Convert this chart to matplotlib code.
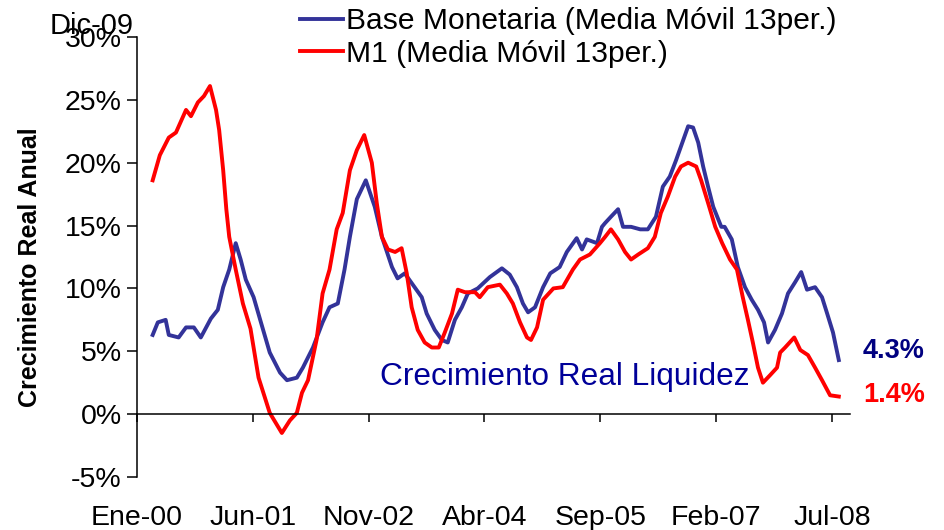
"""
    plot.py
        -- crecimiento real liquidez: base monetaria y M1 (media movil 13 per.)
"""
import matplotlib

matplotlib.use("Agg")
import matplotlib.dates as mdates
import matplotlib.pyplot as plt
import pandas as pd

# Base Monetaria (Media Movil 13per.), % crecimiento real anual
bm_dates = [
    "2000-03-11", "2000-04-03", "2000-05-08", "2000-05-22", "2000-07-05",
    "2000-08-07", "2000-09-11", "2000-10-12", "2000-11-26", "2000-12-27",
    "2001-01-20", "2001-02-16", "2001-03-17", "2001-04-08", "2001-05-01",
    "2001-06-05", "2001-07-06", "2001-08-16", "2001-10-01", "2001-11-01",
    "2001-12-15", "2002-01-11", "2002-02-25", "2002-04-09", "2002-05-10",
    "2002-06-16", "2002-07-16", "2002-08-09", "2002-09-09", "2002-10-19",
    "2002-11-28", "2002-12-30", "2003-02-13", "2003-03-10", "2003-04-11",
    "2003-05-25", "2003-06-26", "2003-07-18", "2003-08-23", "2003-09-24",
    "2003-10-20", "2003-11-21", "2003-12-22", "2004-01-18", "2004-03-02",
    "2004-04-25", "2004-06-18", "2004-07-23", "2004-08-24", "2004-09-20",
    "2004-10-13", "2004-11-13", "2004-12-19", "2005-01-20", "2005-03-03",
    "2005-04-04", "2005-05-18", "2005-06-11", "2005-07-02", "2005-08-17",
    "2005-09-08", "2005-09-22", "2005-10-18", "2005-11-19", "2005-12-11",
    "2006-01-16", "2006-02-26", "2006-04-01", "2006-05-07", "2006-06-07",
    "2006-07-08", "2006-08-05", "2006-09-06", "2006-09-28", "2006-10-20",
    "2006-11-12", "2006-12-04", "2006-12-26", "2007-01-18", "2007-02-23",
    "2007-03-10", "2007-04-11", "2007-05-08", "2007-06-09", "2007-07-09",
    "2007-08-06", "2007-09-02", "2007-09-20", "2007-10-21", "2007-11-21",
    "2007-12-18", "2008-01-19", "2008-02-15", "2008-03-12", "2008-04-17",
    "2008-05-18", "2008-06-10", "2008-07-06", "2008-08-01",
]
bm_vals = [
    6.3, 7.3, 7.5, 6.3, 6.1,
    6.9, 6.9, 6.1, 7.6, 8.3,
    10.1, 11.5, 13.6, 12.3, 10.7,
    9.3, 7.4, 4.9, 3.3, 2.7,
    2.9, 3.7, 5.3, 7.3, 8.5,
    8.8, 11.5, 14.1, 17.1, 18.6,
    16.5, 14.1, 11.7, 10.8, 11.2,
    10.1, 9.3, 8.0, 6.7, 5.9,
    5.7, 7.5, 8.5, 9.6, 10.0,
    10.9, 11.6, 11.1, 10.1, 8.8,
    8.1, 8.5, 10.1, 11.2, 11.7,
    12.9, 14.0, 13.1, 13.9, 13.6,
    14.9, 15.2, 15.7, 16.3, 14.9,
    14.9, 14.7, 14.7, 15.7, 18.1,
    18.9, 20.2, 21.8, 22.9, 22.8,
    21.6, 19.7, 18.1, 16.5, 14.9,
    14.9, 13.9, 11.7, 10.1, 9.1,
    8.3, 7.3, 5.7, 6.7, 8.0,
    9.6, 10.5, 11.3, 9.9, 10.1,
    9.3, 8.0, 6.5, 4.3,
]

# M1 (Media Movil 13per.)
m1_dates = [
    "2000-03-11", "2000-04-12", "2000-05-22", "2000-06-23", "2000-08-07",
    "2000-08-29", "2000-09-29", "2000-10-26", "2000-11-22", "2000-12-19",
    "2001-01-02", "2001-01-20", "2001-02-03", "2001-02-16", "2001-03-17",
    "2001-04-18", "2001-05-22", "2001-06-27", "2001-08-16", "2001-10-09",
    "2001-11-14", "2001-12-15", "2002-01-07", "2002-02-03", "2002-03-13",
    "2002-04-09", "2002-05-10", "2002-06-11", "2002-07-08", "2002-08-09",
    "2002-09-09", "2002-10-12", "2002-11-15", "2002-12-07", "2002-12-30",
    "2003-01-26", "2003-02-27", "2003-03-28", "2003-04-20", "2003-05-12",
    "2003-06-08", "2003-07-09", "2003-08-10", "2003-09-10", "2003-10-07",
    "2003-11-08", "2003-12-04", "2004-01-05", "2004-02-19", "2004-03-11",
    "2004-04-16", "2004-06-09", "2004-07-10", "2004-08-06", "2004-09-07",
    "2004-10-08", "2004-10-26", "2004-11-22", "2004-12-19", "2005-02-03",
    "2005-03-17", "2005-05-01", "2005-06-02", "2005-07-16", "2005-08-30",
    "2005-09-22", "2005-10-18", "2005-11-19", "2005-12-20", "2006-01-16",
    "2006-02-17", "2006-04-01", "2006-05-02", "2006-05-29", "2006-06-29",
    "2006-08-01", "2006-08-27", "2006-09-28", "2006-11-03", "2006-11-25",
    "2006-12-26", "2007-01-27", "2007-02-27", "2007-04-03", "2007-05-04",
    "2007-05-30", "2007-06-22", "2007-07-14", "2007-08-06", "2007-08-28",
    "2007-09-29", "2007-10-30", "2007-11-13", "2007-12-05", "2008-01-15",
    "2008-02-11", "2008-03-16", "2008-04-17", "2008-05-18", "2008-06-23",
    "2008-08-01",
]
m1_vals = [
    18.6, 20.6, 22.0, 22.4, 24.2,
    23.7, 24.8, 25.3, 26.1, 24.2,
    22.6, 19.4, 16.3, 14.1, 11.5,
    8.8, 6.8, 2.9, 0.1, -1.5,
    -0.5, 0.1, 1.7, 2.7, 5.9,
    9.6, 11.5, 14.7, 16.0, 19.4,
    21.0, 22.2, 20.0, 16.8, 14.1,
    13.1, 12.9, 13.2, 11.2, 8.5,
    6.7, 5.7, 5.3, 5.3, 6.5,
    8.0, 9.9, 9.7, 9.7, 9.3,
    10.1, 10.3, 9.6, 8.8, 7.3,
    6.1, 5.9, 6.9, 9.1, 10.0,
    10.1, 11.5, 12.3, 12.7, 13.6,
    14.1, 14.7, 13.9, 12.9, 12.3,
    12.7, 13.2, 14.1, 16.0, 17.3,
    18.9, 19.7, 20.0, 19.7, 18.6,
    16.8, 14.9, 13.6, 12.3, 11.5,
    9.3, 7.5, 5.7, 3.7, 2.5,
    3.1, 3.7, 4.9, 5.3, 6.1,
    5.1, 4.7, 3.7, 2.7, 1.5,
    1.4,
]

tick_dates = ["2000-01-01", "2001-06-01", "2002-11-01", "2004-04-01",
              "2005-09-01", "2007-02-01", "2008-07-01"]
tick_labels = ["Ene-00", "Jun-01", "Nov-02", "Abr-04", "Sep-05", "Feb-07", "Jul-08"]
y_ticks = [-5, 0, 5, 10, 15, 20, 25, 30]

last_bm = "4.3%"
last_m1 = "1.4%"


def num(dates):
    return mdates.date2num(pd.to_datetime(dates))


plt.rcParams["font.family"] = ["Liberation Sans", "DejaVu Sans"]

fig = plt.figure(figsize=(9.45, 5.3), dpi=100)
ax = fig.add_axes([137 / 945, 1 - 477 / 530, 713 / 945, 440 / 530])

ax.plot(num(bm_dates), bm_vals, color="#333399", lw=2.8,
        label="Base Monetaria (Media Móvil 13per.)")
ax.plot(num(m1_dates), m1_vals, color="#ff0000", lw=2.8,
        label="M1 (Media Móvil 13per.)")

ax.set_xlim(num(["2000-01-01"])[0], num(["2008-09-20"])[0])
ax.set_ylim(-5, 30)

ax.set_yticks(y_ticks)
ax.set_yticklabels([f"{v}%" for v in y_ticks])
ax.tick_params(axis="y", direction="out", length=7, width=1.1, pad=4, labelsize=20.5)

# category axis crosses at 0, labels stay at the bottom
ax.spines["bottom"].set_position(("data", 0))
ax.spines["top"].set_visible(False)
ax.spines["right"].set_visible(False)
ax.spines["left"].set_linewidth(1.1)
ax.spines["bottom"].set_linewidth(1.1)
ax.set_xticks(num(tick_dates))
ax.tick_params(axis="x", direction="out", length=6, width=1.1, labelbottom=False)

sec = ax.secondary_xaxis("bottom")
sec.set_xticks(num(tick_dates))
sec.set_xticklabels(tick_labels)
sec.tick_params(length=0, pad=20, labelsize=20.5)
sec.spines["bottom"].set_visible(False)

ax.text(0.341, 0.227, "Crecimiento Real Liquidez", transform=ax.transAxes,
        color="#000099", fontsize=22.8, ha="left", va="center")
ax.text(1.018, 0.286, last_bm, transform=ax.transAxes, color="#000080",
        fontsize=19.5, fontweight="bold", ha="left", va="center", clip_on=False)
ax.text(1.018, 0.186, last_m1, transform=ax.transAxes, color="#ff0000",
        fontsize=19.5, fontweight="bold", ha="left", va="center", clip_on=False)

fig.text(30 / 945, 1 - 267 / 530, "Crecimiento Real Anual", rotation=90,
         fontsize=18, fontweight="bold", ha="center", va="center")
fig.text(50 / 945, 1 - 26 / 530, "Dic-09", fontsize=21, ha="left", va="center")

ax.legend(loc="upper left", bbox_to_anchor=(300 / 945, 1 - 7 / 530),
          bbox_transform=fig.transFigure, frameon=False, fontsize=21.6,
          handlelength=1.45, handletextpad=0.1, labelspacing=0.15,
          borderpad=0, borderaxespad=0)

plt.savefig("out.png", dpi=100)
plt.close("all")
